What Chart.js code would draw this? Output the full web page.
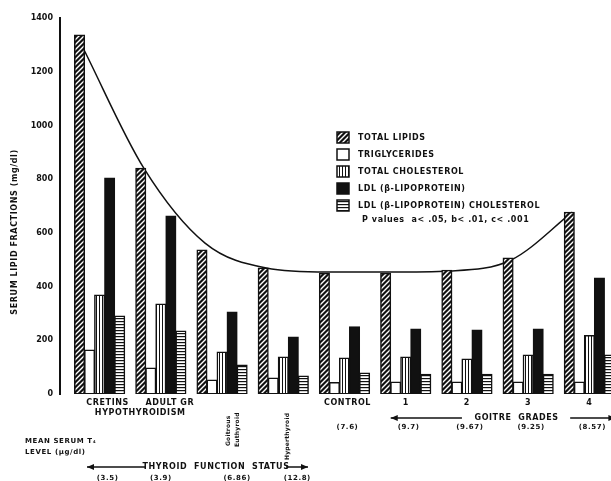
<!DOCTYPE html>
<html>
<head>
<meta charset="utf-8">
<script src="https://cdn.jsdelivr.net/npm/chart.js@4.4.0/dist/chart.umd.min.js"></script>
<style>
  html, body { margin: 0; padding: 0; background: #fff; overflow: hidden; }
  #wrap { width: 620px; height: 481px; }
</style>
</head>
<body>
<div id="wrap"><canvas id="lipids" width="620" height="481"></canvas></div>
<script>
// groups along the x axis and the mean serum T4 level under each
var groups = ['CRETINS', 'ADULT GR', 'Goitrous Euthyroid', 'Hyperthyroid', 'CONTROL', '1', '2', '3', '4'];
var t4Levels = ['(3.5)', '(3.9)', '(6.86)', '(12.8)', '(7.6)', '(9.7)', '(9.67)', '(9.25)', '(8.57)'];

// serum lipid fractions, mg/dl
var totalLipids   = [1337, 841, 536, 469, 450, 450, 461, 506, 677];
var triglycerides = [164, 97, 52, 60, 43, 45, 45, 45, 45];
var totalChol     = [369, 335, 156, 138, 134, 138, 130, 145, 218];
var ldl           = [804, 663, 305, 212, 250, 242, 238, 242, 432];
var ldlChol       = [290, 235, 108, 67, 78, 74, 74, 74, 145];

// hand drawn curve through the total lipid tops
var fitCurve = [1292, 841, 562, 469, 454, 454, 458, 499, 677];

var yTicks = [0, 200, 400, 600, 800, 1000, 1200, 1400];

var INK = '#111';
var FONT = '"DejaVu Sans", sans-serif';
var CAT_PCT = 0.82;

function makePattern(kind) {
  var c = document.createElement('canvas');
  var s = kind === 'hatch' ? 5 : 3;
  c.width = s; c.height = s;
  var g = c.getContext('2d');
  if (kind === 'hatch') {
    g.fillStyle = INK; g.fillRect(0, 0, s, s);
    g.strokeStyle = '#fff'; g.lineWidth = 1.4;
    g.beginPath();
    g.moveTo(0, s); g.lineTo(s, 0);
    g.moveTo(-1, 1); g.lineTo(1, -1);
    g.moveTo(s - 1, s + 1); g.lineTo(s + 1, s - 1);
    g.stroke();
  } else {
    g.fillStyle = '#fff'; g.fillRect(0, 0, s, s);
    g.fillStyle = INK;
    if (kind === 'vert') g.fillRect(0, 0, 1, s);
    else g.fillRect(0, 0, s, 1.2);
  }
  return g.createPattern(c, 'repeat');
}

// groups sit at x = 0..8 on a linear axis so the curve can share it
function points(values, shift) {
  return values.map(function(v, i) { return { x: i + (shift || 0), y: v }; });
}

function barSet(label, data, fill) {
  return {
    label: label,
    data: points(data),
    backgroundColor: fill,
    borderColor: INK,
    borderWidth: 1.5,
    borderSkipped: false,
    inflateAmount: 0.5,
    barPercentage: 1.0,
    categoryPercentage: CAT_PCT
  };
}

// x of the total lipid bar inside each group (first of five bars)
var tlShift = -0.4 * CAT_PCT + 0.05;

function drawArrow(ctx, x1, x2, y, head) {
  ctx.beginPath();
  ctx.moveTo(x1, y); ctx.lineTo(x2, y);
  ctx.stroke();
  ctx.beginPath();
  var tip = head === 'left' ? x1 : x2;
  var dir = head === 'left' ? 1 : -1;
  ctx.moveTo(tip, y);
  ctx.lineTo(tip + dir * 7, y - 3);
  ctx.lineTo(tip + dir * 7, y + 3);
  ctx.closePath();
  ctx.fill();
}

var annotate = {
  id: 'annotate',
  afterDraw: function(chart) {
    var ctx = chart.ctx;
    var xs = chart.scales.x;
    var bottom = chart.chartArea.bottom;
    var cx = function(i) { return xs.getPixelForValue(i); };
    ctx.save();
    ctx.fillStyle = INK;
    ctx.strokeStyle = INK;
    ctx.letterSpacing = '0.6px';
    ctx.font = 'bold 8px ' + FONT;
    ctx.textBaseline = 'middle';

    // y axis title
    ctx.save();
    ctx.translate(15, 232);
    ctx.rotate(-Math.PI / 2);
    ctx.textAlign = 'center';
    ctx.fillText('SERUM LIPID FRACTIONS (mg/dl)', 0, 0);
    ctx.restore();

    // legend
    var ds = chart.data.datasets;
    for (var i = 0; i < 5; i++) {
      var ry = 138 + i * 17;
      ctx.fillStyle = ds[i].backgroundColor;
      ctx.fillRect(337, ry - 6, 12, 11);
      ctx.lineWidth = 1.5;
      ctx.strokeRect(337, ry - 6, 12, 11);
      ctx.fillStyle = INK;
      ctx.textAlign = 'left';
      ctx.fillText(ds[i].label, 358, ry);
    }
    ctx.fillText('P values  a< .05, b< .01, c< .001', 362, 220);

    // group labels
    ctx.textAlign = 'center';
    ctx.fillText(groups[0], cx(0) + 8, bottom + 9);
    ctx.fillText(groups[1], cx(1) + 9, bottom + 9);
    ctx.fillText('HYPOTHYROIDISM', (cx(0) + cx(1)) / 2 + 10, bottom + 19);
    for (var k = 4; k < 9; k++) ctx.fillText(groups[k], cx(k) + (k === 4 ? 3 : 0), bottom + 9);

    // rotated labels
    ctx.font = 'bold 6px ' + FONT;
    ctx.letterSpacing = '0.2px';
    var rot = function(text, x, y) {
      ctx.save();
      ctx.translate(x, y);
      ctx.rotate(-Math.PI / 2);
      ctx.textAlign = 'left';
      ctx.fillText(text, 0, 0);
      ctx.restore();
    };
    var g2 = groups[2].split(' ');
    rot(g2[0], cx(2) + 6, bottom + 52);
    rot(g2[1], cx(2) + 15, bottom + 53);
    rot(groups[3], cx(3) + 4, bottom + 66);

    ctx.font = 'bold 8px ' + FONT;
    ctx.letterSpacing = '0.6px';

    // goitre grades arrow
    var gy = bottom + 24;
    ctx.lineWidth = 1.5;
    ctx.textAlign = 'center';
    ctx.fillText('GOITRE  GRADES', (cx(6) + cx(7)) / 2 + 19, gy);
    drawArrow(ctx, cx(5) - 15, cx(6) - 5, gy, 'left');
    drawArrow(ctx, cx(7) + 42, cx(8) + 26, gy, 'right');

    // T4 levels
    ctx.font = 'bold 7px ' + FONT;
    for (var j = 4; j < 9; j++) ctx.fillText(t4Levels[j], cx(j) + 3, bottom + 33);
    var off = [8, 0, 15, 14];
    for (var m = 0; m < 4; m++) ctx.fillText(t4Levels[m], cx(m) + off[m], bottom + 84);

    ctx.textAlign = 'left';
    ctx.fillText('MEAN SERUM T\u2084', 25, bottom + 47);
    ctx.fillText('LEVEL (\u00b5g/dl)', 25, bottom + 58);

    // thyroid function status arrow
    ctx.font = 'bold 8px ' + FONT;
    var ty = bottom + 73;
    ctx.textAlign = 'center';
    ctx.fillText('THYROID  FUNCTION  STATUS', 216, ty);
    drawArrow(ctx, 87, 146, ty, 'left');
    drawArrow(ctx, 286, 308, ty, 'right');

    ctx.restore();
  }
};

var whiteBg = {
  id: 'whiteBg',
  beforeDraw: function(chart) {
    var ctx = chart.ctx;
    ctx.save();
    ctx.fillStyle = '#fff';
    ctx.fillRect(0, 0, chart.width, chart.height);
    ctx.restore();
  }
};

var chart = new Chart(document.getElementById('lipids'), {
  type: 'bar',
  data: {
    datasets: [
      barSet('TOTAL LIPIDS', totalLipids, makePattern('hatch')),
      barSet('TRIGLYCERIDES', triglycerides, '#fff'),
      barSet('TOTAL CHOLESTEROL', totalChol, makePattern('vert')),
      barSet('LDL (\u03b2-LIPOPROTEIN)', ldl, INK),
      barSet('LDL (\u03b2-LIPOPROTEIN) CHOLESTEROL', ldlChol, makePattern('horiz')),
      {
        type: 'line',
        label: 'curve',
        data: points(fitCurve, tlShift),
        borderColor: INK,
        borderWidth: 1.5,
        pointRadius: 0,
        pointHoverRadius: 0,
        pointHitRadius: 0,
        fill: false,
        cubicInterpolationMode: 'monotone'
      }
    ]
  },
  options: {
    responsive: false,
    animation: false,
    events: [],
    layout: { autoPadding: false, padding: { top: 18, bottom: 87, right: 0, left: 0 } },
    plugins: {
      legend: { display: false },
      title: { display: false },
      tooltip: { enabled: false }
    },
    scales: {
      x: {
        type: 'linear',
        display: false,
        offset: false,
        min: -0.5,
        max: 8.5,
        ticks: { stepSize: 1, includeBounds: false },
        grid: { display: false, offset: false }
      },
      y: {
        type: 'linear',
        position: 'left',
        weight: 1,
        min: 0,
        max: 1400,
        afterBuildTicks: function(scale) { scale.ticks = yTicks.map(function(v) { return { value: v }; }); },
        ticks: {
          padding: 7,
          color: INK,
          font: { family: FONT, size: 8, weight: 'bold' },
          callback: function(value) { return String(value); }
        },
        grid: { display: false, drawTicks: false },
        border: { display: true, color: INK, width: 2 },
        afterFit: function(scale) { scale.width = 60; }
      },
      yPad: {
        type: 'linear',
        position: 'left',
        weight: 0,
        min: 0,
        max: 1400,
        ticks: { display: false },
        grid: { display: false, drawTicks: false },
        border: { display: false },
        afterFit: function(scale) { scale.width = 9; }
      }
    }
  },
  plugins: [whiteBg, annotate]
});
</script>
</body>
</html>
